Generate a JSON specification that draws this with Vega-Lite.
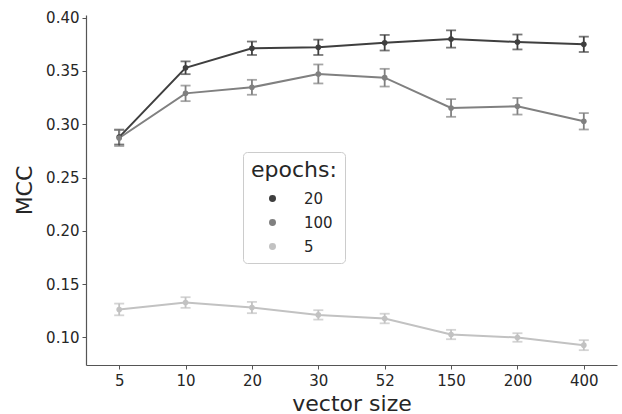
{
  "$schema": "https://vega.github.io/schema/vega-lite/v6.json",
  "autosize": {"type": "none"},
  "width": 531,
  "height": 350,
  "padding": {"left": 86, "top": 15, "right": 5, "bottom": 49},
  "config": {
    "view": {"stroke": null},
    "font": "DejaVu Sans",
    "axis": {
      "grid": false,
      "domainColor": "#555555",
      "domainWidth": 1.2,
      "tickColor": "#555555",
      "tickSize": 4,
      "labelFontSize": 15,
      "labelColor": "#262626",
      "titleFontSize": 22,
      "titleFontWeight": "normal",
      "titleColor": "#262626",
      "labelFont": "DejaVu Sans",
      "titleFont": "DejaVu Sans"
    },
    "legend": {
      "titleFontSize": 22,
      "titleFontWeight": "normal",
      "titleColor": "#262626",
      "labelFontSize": 15,
      "labelColor": "#262626",
      "labelFont": "DejaVu Sans",
      "titleFont": "DejaVu Sans"
    }
  },
  "data": {
    "values": [
      {"size": "5", "epochs": "20", "mcc": 0.288, "lo": 0.281, "hi": 0.295},
      {"size": "10", "epochs": "20", "mcc": 0.353, "lo": 0.347, "hi": 0.359},
      {"size": "20", "epochs": "20", "mcc": 0.3713, "lo": 0.365, "hi": 0.3776},
      {"size": "30", "epochs": "20", "mcc": 0.3722, "lo": 0.365, "hi": 0.3794},
      {"size": "52", "epochs": "20", "mcc": 0.3765, "lo": 0.3692, "hi": 0.3838},
      {"size": "150", "epochs": "20", "mcc": 0.380, "lo": 0.3719, "hi": 0.3881},
      {"size": "200", "epochs": "20", "mcc": 0.3772, "lo": 0.3702, "hi": 0.3842},
      {"size": "400", "epochs": "20", "mcc": 0.375, "lo": 0.3678, "hi": 0.3822},
      {"size": "5", "epochs": "100", "mcc": 0.2871, "lo": 0.2796, "hi": 0.2946},
      {"size": "10", "epochs": "100", "mcc": 0.329, "lo": 0.3217, "hi": 0.3363},
      {"size": "20", "epochs": "100", "mcc": 0.3347, "lo": 0.3277, "hi": 0.3417},
      {"size": "30", "epochs": "100", "mcc": 0.3472, "lo": 0.3383, "hi": 0.3561},
      {"size": "52", "epochs": "100", "mcc": 0.3437, "lo": 0.3354, "hi": 0.352},
      {"size": "150", "epochs": "100", "mcc": 0.3153, "lo": 0.307, "hi": 0.3236},
      {"size": "200", "epochs": "100", "mcc": 0.3169, "lo": 0.3091, "hi": 0.3247},
      {"size": "400", "epochs": "100", "mcc": 0.3028, "lo": 0.2951, "hi": 0.3105},
      {"size": "5", "epochs": "5", "mcc": 0.1263, "lo": 0.1208, "hi": 0.1318},
      {"size": "10", "epochs": "5", "mcc": 0.1328, "lo": 0.1278, "hi": 0.1378},
      {"size": "20", "epochs": "5", "mcc": 0.1281, "lo": 0.1228, "hi": 0.1334},
      {"size": "30", "epochs": "5", "mcc": 0.1212, "lo": 0.1168, "hi": 0.1256},
      {"size": "52", "epochs": "5", "mcc": 0.1178, "lo": 0.1133, "hi": 0.1223},
      {"size": "150", "epochs": "5", "mcc": 0.1028, "lo": 0.0984, "hi": 0.1072},
      {"size": "200", "epochs": "5", "mcc": 0.100, "lo": 0.096, "hi": 0.104},
      {"size": "400", "epochs": "5", "mcc": 0.0928, "lo": 0.0881, "hi": 0.0975}
    ]
  },
  "encoding": {
    "x": {
      "field": "size",
      "type": "ordinal",
      "sort": ["5", "10", "20", "30", "52", "150", "200", "400"],
      "scale": {"type": "point", "padding": 0.5},
      "axis": {"title": "vector size", "labelAngle": 0, "labelPadding": 4, "titlePadding": 5}
    },
    "color": {
      "field": "epochs",
      "type": "nominal",
      "scale": {"domain": ["20", "100", "5"], "range": ["#3f3f3f", "#808080", "#c2c2c2"]},
      "legend": {
        "title": "epochs:",
        "orient": "none",
        "legendX": 157,
        "legendY": 137,
        "padding": 8,
        "strokeColor": "#cccccc",
        "fillColor": "#ffffff",
        "cornerRadius": 4,
        "symbolType": "circle",
        "symbolSize": 30,
        "symbolOpacity": 1,
        "symbolOffset": 14,
        "labelOffset": 24,
        "rowPadding": 8,
        "titlePadding": 9
      }
    }
  },
  "layer": [
    {
      "mark": {"type": "rule", "strokeWidth": 1.8},
      "encoding": {
        "y": {"field": "lo", "type": "quantitative"},
        "y2": {"field": "hi"}
      }
    },
    {
      "mark": {"type": "tick", "size": 10, "thickness": 1.8},
      "encoding": {"y": {"field": "lo", "type": "quantitative"}}
    },
    {
      "mark": {"type": "tick", "size": 10, "thickness": 1.8},
      "encoding": {"y": {"field": "hi", "type": "quantitative"}}
    },
    {
      "mark": {"type": "line", "strokeWidth": 2},
      "encoding": {
        "y": {
          "field": "mcc",
          "type": "quantitative",
          "scale": {"domain": [0.0742, 0.4025], "zero": false, "nice": false},
          "axis": {"title": "MCC", "values": [0.1, 0.15, 0.2, 0.25, 0.3, 0.35, 0.4], "format": ".2f", "labelPadding": 3, "titlePadding": 9}
        }
      }
    },
    {
      "mark": {"type": "point", "filled": true, "size": 32, "opacity": 1},
      "encoding": {"y": {"field": "mcc", "type": "quantitative"}}
    }
  ]
}
